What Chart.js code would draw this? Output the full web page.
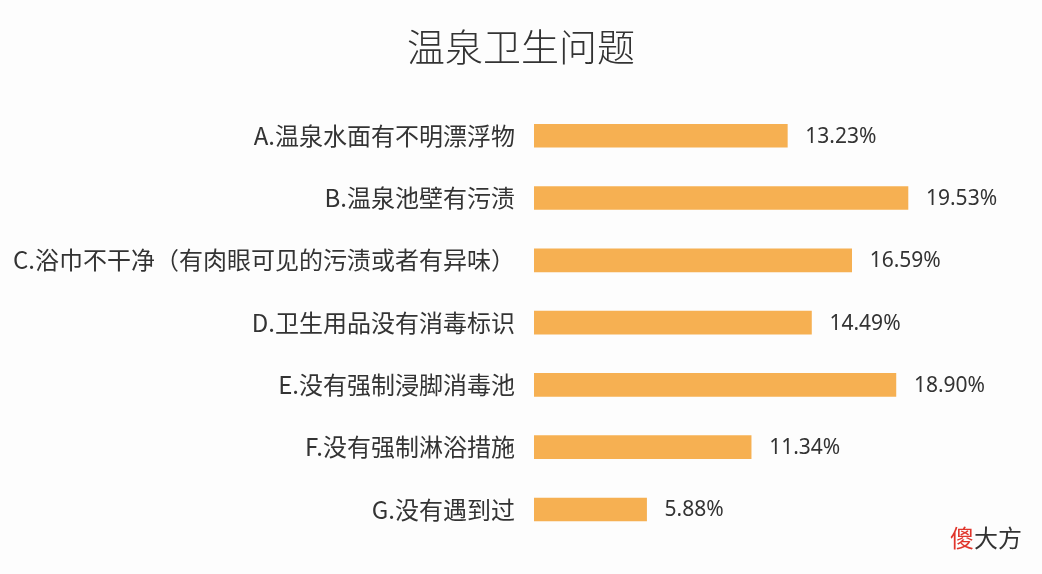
<!DOCTYPE html>
<html>
<head>
<meta charset="utf-8">
<script src="https://cdn.jsdelivr.net/npm/chart.js@4/dist/chart.umd.min.js"></script>
<style>
  html, body { margin: 0; padding: 0; background: #fdfdfd; }
  #wrap { position: relative; width: 1042px; height: 574px; }
  #mark { position: absolute; left: 950px; top: 522px; font: 24px "Noto Sans CJK SC", sans-serif; color: #333; line-height: 30px; }
  #mark span { color: #e0352b; }
</style>
</head>
<body>
<div id="wrap">
  <canvas id="c" width="1042" height="574"></canvas>
  <div id="mark"><span>傻</span>大方</div>
</div>
<script>
const titleText = '温泉卫生问题';
const categories = [
  'A.温泉水面有不明漂浮物',
  'B.温泉池壁有污渍',
  'C.浴巾不干净（有肉眼可见的污渍或者有异味）',
  'D.卫生用品没有消毒标识',
  'E.没有强制浸脚消毒池',
  'F.没有强制淋浴措施',
  'G.没有遇到过'
];
const values = [13.23, 19.53, 16.59, 14.49, 18.90, 11.34, 5.88];

const valueLabels = {
  id: 'valueLabels',
  afterDatasetsDraw(chart) {
    const ctx = chart.ctx;
    const meta = chart.getDatasetMeta(0);
    ctx.save();
    ctx.font = '21px "Noto Sans", "Noto Sans CJK SC", sans-serif';
    ctx.fillStyle = '#333';
    ctx.textAlign = 'left';
    ctx.textBaseline = 'middle';
    meta.data.forEach((bar, i) => {
      ctx.fillText(values[i].toFixed(2) + '%', bar.x + 18, bar.y + 1);
    });
    ctx.restore();
  }
};

new Chart(document.getElementById('c'), {
  type: 'bar',
  data: {
    labels: categories,
    datasets: [{
      data: values,
      backgroundColor: '#f6b052',
      barThickness: 23,
      borderWidth: 0
    }]
  },
  options: {
    indexAxis: 'y',
    responsive: false,
    animation: false,
    layout: { padding: { left: 0, right: 0, top: 0, bottom: 32 } },
    plugins: {
      legend: { display: false },
      tooltip: { enabled: false },
      title: {
        display: true,
        text: titleText,
        color: '#333',
        font: { size: 38, weight: '300', family: '"Noto Sans CJK SC", sans-serif', lineHeight: 1.2 },
        padding: { top: 24, bottom: 35 }
      }
    },
    scales: {
      x: { display: false, min: 0, max: 26.53 },
      y: {
        grid: { display: false, drawTicks: false },
        border: { display: false },
        afterFit(scale) { scale.width = 534; },
        ticks: {
          padding: 19,
          color: '#333',
          font: { size: 24, family: '"Noto Sans CJK SC", sans-serif' }
        }
      }
    }
  },
  plugins: [valueLabels]
});
</script>
</body>
</html>
